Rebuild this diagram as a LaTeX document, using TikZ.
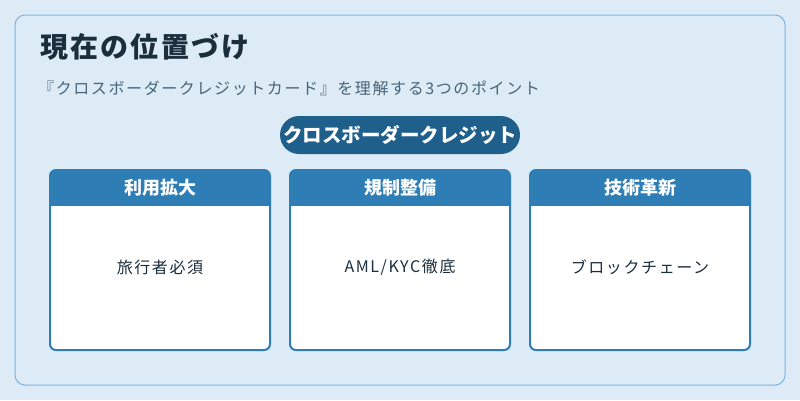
\documentclass[tikz,border=0pt]{standalone}
\usepackage{fontspec}
\setmainfont{Noto Sans CJK JP}
\usetikzlibrary{positioning}
\definecolor{bgblue}{HTML}{DCEBF6}
\definecolor{edgeblue}{HTML}{7FB4DA}
\definecolor{headblue}{HTML}{2E7DB5}
\definecolor{pillblue}{HTML}{1F5F8B}
\definecolor{titlecol}{HTML}{1B2E3C}
\definecolor{subcol}{HTML}{4A6478}
\tikzset{
  cardtext/.style={font=\fontsize{16}{19}\selectfont\addfontfeatures{LetterSpace=10}, text=titlecol},
  headtext/.style={text=white, font=\bfseries\fontsize{18}{21}\selectfont}
}
\begin{document}
\begin{tikzpicture}[x=1pt,y=-1pt]
\useasboundingbox (0,0) rectangle (800,400);
\fill[bgblue] (0,0) rectangle (800,400);
\draw[edgeblue, line width=1pt, rounded corners=10pt] (15,15) rectangle (785,385);

% Title and subtitle
\node[anchor=west, inner sep=0pt, font=\bfseries\fontsize{28}{32}\selectfont\addfontfeatures{LetterSpace=8}, text=titlecol] (title) at (40,47) {現在の位置づけ};
\node[anchor=west, inner sep=0pt, font=\fontsize{16}{19}\selectfont\addfontfeatures{LetterSpace=10}, text=subcol] (sub) at (38,88) {『クロスボーダークレジットカード』を理解する3つのポイント};

% Center pill
\node[fill=pillblue, text=white, rounded corners=19pt, minimum width=240pt, minimum height=38pt,
  inner xsep=2pt, font=\bfseries\fontsize{19.5}{22}\selectfont] (pill) at (400,135) {クロスボーダークレジット};

% Cards
\foreach \x/\head/\body [count=\i] in {50/利用拡大/旅行者必須, 290/規制整備/{AML/KYC徹底}, 530/技術革新/ブロックチェーン}{
  \fill[white, rounded corners=6pt] (\x,170) rectangle ++(220,180);
  \begin{scope}
    \clip[rounded corners=6pt] (\x,170) rectangle ++(220,180);
    \fill[headblue] (\x,170) rectangle ++(220,36);
  \end{scope}
  \draw[headblue, line width=2pt, rounded corners=6pt] (\x,170) rectangle ++(220,180);
  \node[headtext] (head\i) at (\x+110,188) {\head};
  \node[cardtext] (body\i) at (\x+110,267) {\body};
}
\end{tikzpicture}
\end{document}
